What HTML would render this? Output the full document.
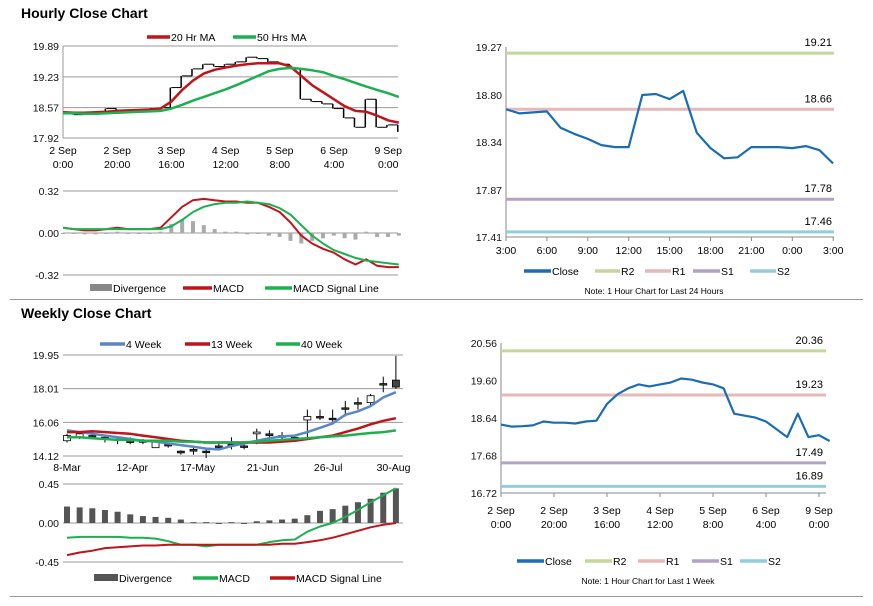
<!DOCTYPE html>
<html><head><meta charset="utf-8">
<style>
body{margin:0;background:#fff;width:873px;height:601px;overflow:hidden;font-family:"Liberation Sans",Arial,sans-serif}
svg text{font-family:"Liberation Sans",Arial,sans-serif}
</style></head>
<body>
<svg id="s" width="873" height="601" viewBox="0 0 873 601" xmlns="http://www.w3.org/2000/svg">
<text x="21" y="18" font-size="14" font-weight="bold">Hourly Close Chart</text>
<text x="21" y="318" font-size="14" font-weight="bold">Weekly Close Chart</text>
<line x1="10" y1="299.5" x2="863" y2="299.5" stroke="#999"/>
<line x1="10" y1="596.5" x2="863" y2="596.5" stroke="#999"/>
</svg>
<script>
// ---- Hourly (4-hour samples) ----
const hourlyClose=[18.47,18.42,18.43,18.45,18.55,18.52,18.52,18.50,18.55,18.57,19.0,19.25,19.40,19.50,19.45,19.50,19.55,19.65,19.62,19.55,19.50,19.40,18.75,18.70,18.65,18.55,18.35,18.15,18.75,18.15,18.20,18.05];
const ma20=[18.47,18.46,18.46,18.47,18.48,18.50,18.51,18.52,18.53,18.55,18.70,18.95,19.15,19.30,19.38,19.43,19.47,19.50,19.52,19.52,19.52,19.45,19.25,19.05,18.9,18.75,18.6,18.5,18.48,18.4,18.3,18.25];
const ma50=[18.45,18.45,18.44,18.44,18.45,18.46,18.47,18.48,18.49,18.50,18.55,18.63,18.72,18.80,18.88,18.96,19.05,19.15,19.25,19.35,19.40,19.42,19.40,19.37,19.33,19.25,19.18,19.1,19.02,18.95,18.88,18.80];
const hMacd=[0.04,0.03,0.02,0.02,0.03,0.04,0.03,0.03,0.03,0.04,0.12,0.20,0.25,0.26,0.25,0.24,0.24,0.23,0.23,0.2,0.16,0.08,-0.02,-0.08,-0.12,-0.15,-0.20,-0.24,-0.20,-0.25,-0.26,-0.26];
const hSignal=[0.04,0.03,0.03,0.03,0.03,0.03,0.03,0.03,0.03,0.03,0.05,0.10,0.16,0.20,0.22,0.23,0.23,0.24,0.23,0.22,0.19,0.14,0.06,-0.02,-0.08,-0.13,-0.16,-0.19,-0.21,-0.22,-0.23,-0.24];
const hourTicks=["2 Sep|0:00","2 Sep|20:00","3 Sep|16:00","4 Sep|12:00","5 Sep|8:00","6 Sep|4:00","9 Sep|0:00"];
const hPriceTicks=[19.89,19.23,18.57,17.92];
const hMacdTicks=[0.32,0.00,-0.32];
// ---- Last 24 hours ----
const dayClose=[18.66,18.62,18.63,18.64,18.48,18.42,18.37,18.31,18.29,18.29,18.80,18.81,18.76,18.84,18.43,18.28,18.18,18.19,18.29,18.29,18.29,18.28,18.30,18.26,18.13];
const dayTicks=["3:00","6:00","9:00","12:00","15:00","18:00","21:00","0:00","3:00"];
const dayYTicks=[19.27,18.80,18.34,17.87,17.41];
const dayLevels=[19.21,18.66,17.78,17.46];
const weekLevels=[20.36,19.23,17.49,16.89];
const weekYTicks=[20.56,19.60,18.64,17.68,16.72];
// ---- Weekly ----
const wOpen=[15.0,15.2,15.3,15.2,15.1,15.1,15.0,14.6,14.8,14.4,14.5,14.4,14.7,14.8,14.7,15.4,15.4,15.3,15.2,16.2,16.4,16.3,16.9,17.2,17.2,18.3,18.5];
const wClose=[15.3,15.4,15.3,15.2,15.1,14.9,15.0,15.0,14.7,14.3,14.4,14.4,14.7,14.8,14.7,15.5,15.3,15.2,15.2,16.4,16.4,16.3,16.9,17.2,17.6,18.3,18.1];
const wHigh=[15.4,15.5,15.4,15.3,15.2,15.2,15.1,15.0,14.9,14.45,14.6,14.6,14.9,15.2,14.9,15.7,15.6,15.5,15.3,16.8,16.8,16.8,17.3,17.5,17.7,18.7,19.9];
const wLow=[14.9,15.1,15.1,14.9,14.8,14.8,14.8,14.6,14.6,14.2,14.2,14.0,14.5,14.5,14.5,14.8,15.0,15.0,15.0,15.2,16.2,16.1,16.4,16.8,17.0,17.8,18.0];
const w4=[15.6,15.5,15.4,15.3,15.2,15.1,15.0,14.95,14.85,14.75,14.65,14.55,14.5,14.7,14.85,15.0,15.15,15.25,15.3,15.5,15.75,16.0,16.5,16.7,17.0,17.5,17.8];
const w13=[15.5,15.5,15.55,15.5,15.45,15.4,15.3,15.2,15.1,15.0,14.95,14.9,14.9,14.9,14.9,14.9,14.9,14.95,15.0,15.1,15.2,15.3,15.5,15.7,15.95,16.15,16.3];
const w40=[15.2,15.2,15.15,15.1,15.05,15.05,15.0,15.0,15.0,14.95,14.95,14.9,14.9,14.9,14.9,14.95,15.0,15.05,15.1,15.15,15.2,15.25,15.3,15.38,15.45,15.5,15.6];
const wDiv=[0.19,0.18,0.17,0.15,0.13,0.10,0.08,0.07,0.06,0.04,0.01,0.01,-0.01,0.01,-0.01,0.02,0.03,0.04,0.05,0.09,0.14,0.16,0.20,0.24,0.28,0.35,0.40];
const wMacd=[-0.17,-0.16,-0.16,-0.16,-0.16,-0.17,-0.17,-0.18,-0.21,-0.25,-0.25,-0.27,-0.25,-0.25,-0.25,-0.25,-0.22,-0.20,-0.19,-0.10,-0.04,0.00,0.07,0.15,0.24,0.32,0.40];
const wSignal=[-0.37,-0.34,-0.32,-0.29,-0.28,-0.27,-0.26,-0.26,-0.25,-0.25,-0.25,-0.25,-0.25,-0.25,-0.25,-0.25,-0.25,-0.24,-0.24,-0.22,-0.20,-0.17,-0.13,-0.09,-0.05,-0.02,0.00];
const weekTicks=["8-Mar","12-Apr","17-May","21-Jun","26-Jul","30-Aug"];
const wPriceTicks=[19.95,18.01,16.06,14.12];
const wMacdTicks=[0.45,0.00,-0.45];

const S=document.getElementById('s');
const NS='http://www.w3.org/2000/svg';
function mk(tag,attrs,name,txt){
  const el=document.createElementNS(NS,tag);
  for(const k in attrs) el.setAttribute(k,attrs[k]);
  
  
  if(txt!==undefined) el.textContent=txt;
  S.appendChild(el);
  return el;
}
function lin(d0,d1,r0,r1){return v=>r0+(v-d0)/(d1-d0)*(r1-r0);}
function poly(xs,ys,vals,color,w,name){
  const pts=vals.map((v,i)=>xs(i).toFixed(1)+','+ys(v).toFixed(1)).join(' ');
  mk('polyline',{points:pts,fill:'none',stroke:color,'stroke-width':w,'stroke-linejoin':'round'},name);
}
function yTicks(ticks,ys,x0,x1,grid,prefix){
  ticks.forEach(t=>{
    const y=ys(t);
    if(grid) mk('line',{x1:x0,y1:y,x2:x1,y2:y,stroke:'#999','stroke-width':1},prefix+'-gridline');
    mk('text',{x:x0-4,y:y+4,'font-size':10.5,'text-anchor':'end',fill:'#111'},prefix+'-tick-label',t.toFixed(2));
  });
}
function xTicks2(labels,xs,y,prefix){
  labels.forEach((l,i)=>{
    const p=l.split('|');const x=xs(i);
    mk('text',{x:x,y:y,'font-size':10.5,'text-anchor':'middle'},prefix+'-tick-label',p[0]);
    if(p[1]) mk('text',{x:x,y:y+14,'font-size':10.5,'text-anchor':'middle'},prefix+'-tick-label',p[1]);
  });
}
function legend(items,y,prefix){
  items.forEach(it=>{
    if(it.bar) mk('rect',{x:it.x,y:y-4,width:it.w,height:7,fill:it.c},prefix+'-legend-swatch');
    else mk('line',{x1:it.x,y1:y,x2:it.x+it.w,y2:y,stroke:it.c,'stroke-width':3.5},prefix+'-legend-swatch');
    mk('text',{x:it.x+it.w+1,y:y+4,'font-size':10.5},prefix+'-legend-label',it.t);
  });
}
const RED='#c0141b',GRN='#1db050',BLU='#5b87c6',CLS='#1a6db4';
const R2='#c4d79b',R1='#e6b9b8',S1='#b3a2c7',S2='#93cddd';

// Chart A: hourly price
{
  const xs=i=>63+i*4*2.708, ys=lin(19.89,17.92,46,138);
  yTicks(hPriceTicks,ys,63,398,true,'hourly-price');
  mk('line',{x1:63,y1:46,x2:63,y2:138,stroke:'#999'},'hourly-y-axis');
  xTicks2(hourTicks,i=>63+i*54.2,154,'hourly-x');
  for(let i=1;i<hourlyClose.length;i++){
    const x=xs(i);
    mk('line',{x1:xs(i-1),y1:ys(hourlyClose[i-1]),x2:x-1,y2:ys(hourlyClose[i-1]),stroke:'#000','stroke-width':1},'hourly-bar');
    mk('line',{x1:x-1,y1:ys(hourlyClose[i-1]),x2:x-1,y2:ys(hourlyClose[i]),stroke:'#000','stroke-width':1.5},'hourly-bar');
  }
  poly(xs,ys,ma20,RED,2.5,'ma20-line');
  poly(xs,ys,ma50,GRN,2.5,'ma50-line');
  legend([{x:147,w:23,c:RED,t:'20 Hr MA'},{x:233,w:23,c:GRN,t:'50 Hrs MA'}],37,'hourly');
}
// Chart B: hourly MACD
{
  const xs=i=>63+i*4*2.708, ys=lin(0.32,-0.32,191,275);
  yTicks(hMacdTicks,ys,63,398,true,'hourly-macd');
  hMacd.forEach((v,i)=>{const d=v-hSignal[i];const y0=ys(0),y1=ys(d);
    mk('rect',{x:xs(i)-2,y:Math.min(y0,y1),width:4,height:Math.max(1,Math.abs(y1-y0)),fill:'#aaa'},'hourly-divergence-bar');});
  poly(xs,ys,hMacd,RED,2,'hourly-macd-line');
  poly(xs,ys,hSignal,GRN,2,'hourly-signal-line');
  legend([{x:90,w:22,c:'#888',t:'Divergence',bar:1},{x:183,w:29,c:RED,t:'MACD'},{x:265,w:27,c:GRN,t:'MACD Signal Line'}],288,'hourly-macd');
}
// Chart C: last 24h
{
  const xs=i=>506+i*13.63, ys=lin(19.27,17.41,47,237);
  yTicks(dayYTicks,ys,506,834,false,'day');
  mk('line',{x1:506,y1:47,x2:506,y2:237,stroke:'#888'},'day-y-axis');
  mk('line',{x1:506,y1:237,x2:834,y2:237,stroke:'#888'},'day-x-axis');
  dayTicks.forEach((t,i)=>{const x=506+i*40.9;
    mk('line',{x1:x,y1:237,x2:x,y2:241,stroke:'#888'},'day-x-tick');
    mk('text',{x:x,y:254,'font-size':10.5,'text-anchor':'middle'},'day-x-tick-label',t);});
  const cols=[R2,R1,S1,S2];
  dayLevels.forEach((v,i)=>{const y=ys(v);
    mk('line',{x1:506,y1:y,x2:834,y2:y,stroke:cols[i],'stroke-width':3},'day-level-line');
    mk('text',{x:832,y:y-7,'font-size':11,'text-anchor':'end'},'day-level-label',v.toFixed(2));});
  poly(xs,ys,dayClose,CLS,2.2,'day-close-line');
  legend([{x:524,w:27,c:CLS,t:'Close'},{x:595,w:25,c:R2,t:'R2'},{x:645,w:26,c:R1,t:'R1'},{x:693,w:27,c:S1,t:'S1'},{x:750,w:26,c:S2,t:'S2'}],271,'day');
  mk('text',{x:654,y:294,'font-size':8.5,'text-anchor':'middle'},'day-note','Note: 1 Hour Chart for Last 24 Hours');
}
// Chart D: last week
{
  const xs=i=>501+i*4*2.65, ys=lin(20.56,16.72,343,493);
  yTicks(weekYTicks,ys,501,826,false,'week');
  mk('line',{x1:501,y1:343,x2:501,y2:493,stroke:'#888'},'week-y-axis');
  mk('line',{x1:501,y1:493,x2:826,y2:493,stroke:'#888'},'week-x-axis');
  hourTicks.forEach((t,i)=>{const x=501+i*53;mk('line',{x1:x,y1:493,x2:x,y2:497,stroke:'#888'},'week-x-tick');});
  xTicks2(hourTicks,i=>501+i*53,514,'week-x');
  const cols=[R2,R1,S1,S2];
  weekLevels.forEach((v,i)=>{const y=ys(v);
    mk('line',{x1:501,y1:y,x2:826,y2:y,stroke:cols[i],'stroke-width':3},'week-level-line');
    mk('text',{x:823,y:y-7,'font-size':11,'text-anchor':'end'},'week-level-label',v.toFixed(2));});
  poly(xs,ys,hourlyClose,CLS,2.2,'week-close-line');
  legend([{x:517,w:27,c:CLS,t:'Close'},{x:585,w:27,c:R2,t:'R2'},{x:638,w:27,c:R1,t:'R1'},{x:692,w:27,c:S1,t:'S1'},{x:740,w:27,c:S2,t:'S2'}],561,'week');
  mk('text',{x:648,y:584,'font-size':8.5,'text-anchor':'middle'},'week-note','Note: 1 Hour Chart for Last 1 Week');
}
// Chart E: weekly candles
{
  const xs=i=>67+i*12.65, ys=lin(19.95,14.12,355,456);
  yTicks(wPriceTicks,ys,63,403,true,'weekly-price');
  weekTicks.forEach((t,i)=>mk('text',{x:67+i*65.3,y:471,'font-size':10.5,'text-anchor':'middle'},'weekly-x-tick-label',t));
  wOpen.forEach((o,i)=>{const c=wClose[i],x=xs(i);
    mk('line',{x1:x,y1:ys(wHigh[i]),x2:x,y2:ys(wLow[i]),stroke:'#000','stroke-width':1},'weekly-candle-wick');
    const y0=ys(Math.max(o,c)),y1=ys(Math.min(o,c));
    mk('rect',{x:x-3.5,y:y0,width:7,height:Math.max(1.5,y1-y0),fill:c>o?'#fff':'#444',stroke:'#000','stroke-width':0.8},'weekly-candle-body');});
  poly(xs,ys,w4,BLU,2.5,'week4-ma-line');
  poly(xs,ys,w13,RED,2.5,'week13-ma-line');
  poly(xs,ys,w40,GRN,2.5,'week40-ma-line');
  legend([{x:100,w:25,c:BLU,t:'4 Week'},{x:185,w:25,c:RED,t:'13 Week'},{x:276,w:24,c:GRN,t:'40 Week'}],344,'weekly');
}
// Chart F: weekly MACD
{
  const xs=i=>67+i*12.65, ys=lin(0.45,-0.45,484,562);
  yTicks(wMacdTicks,ys,63,403,true,'weekly-macd');
  wDiv.forEach((d,i)=>{const y0=ys(0),y1=ys(d);
    mk('rect',{x:xs(i)-3,y:Math.min(y0,y1),width:6,height:Math.max(1,Math.abs(y1-y0)),fill:'#555'},'weekly-divergence-bar');});
  poly(xs,ys,wMacd,GRN,2,'weekly-macd-line');
  poly(xs,ys,wSignal,RED,2,'weekly-signal-line');
  legend([{x:94,w:24,c:'#555',t:'Divergence',bar:1},{x:193,w:25,c:GRN,t:'MACD'},{x:270,w:25,c:RED,t:'MACD Signal Line'}],578,'weekly-macd');
}
</script>
</body></html>
